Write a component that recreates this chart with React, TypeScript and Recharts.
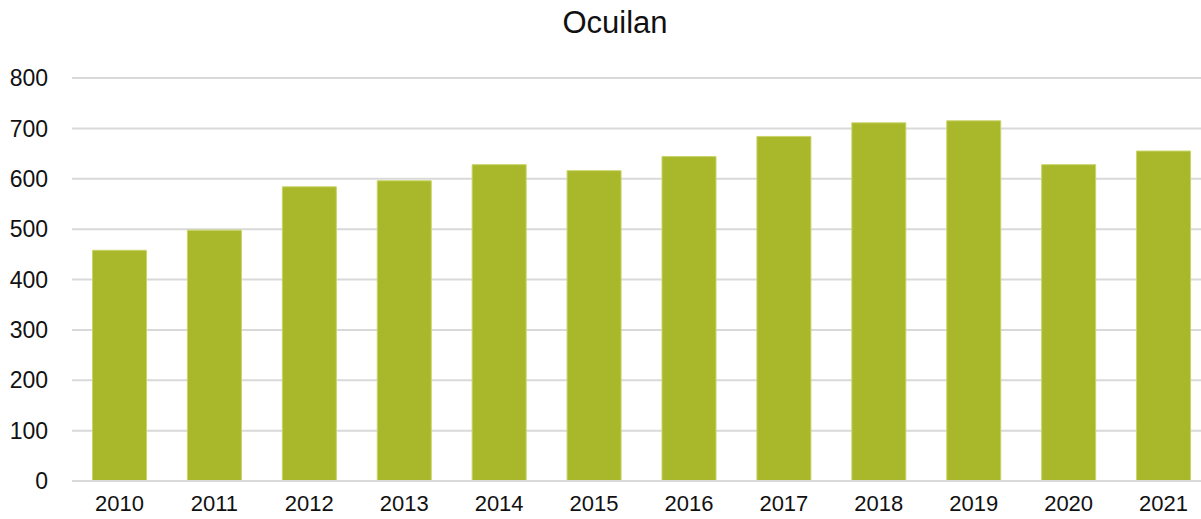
import React from 'react';
import { BarChart, Bar, XAxis, YAxis, CartesianGrid } from 'recharts';

const years = ['2010', '2011', '2012', '2013', '2014', '2015', '2016', '2017', '2018', '2019', '2020', '2021'];
const values = [458, 498, 584, 596, 628, 616, 644, 684, 711, 715, 628, 655];
const yTicks = [0, 100, 200, 300, 400, 500, 600, 700, 800];

const data = years.map((year, i) => ({ year, value: values[i] }));

const font = '"Liberation Sans", Arial, sans-serif';

export default function App() {
    return (
        <div style={{ position: 'absolute', left: 0, top: 0, width: 1201, height: 519, overflow: 'hidden', background: '#fff', fontFamily: font }}>
            <div style={{ position: 'absolute', top: 5, left: 0, width: 1230, textAlign: 'center', fontSize: 31, color: '#111' }}>
                Ocuilan
            </div>
            <BarChart
                width={1211}
                height={519}
                data={data}
                margin={{ top: 78, right: 0, bottom: 0, left: 0 }}
                barCategoryGap="21.6%"
            >
                <CartesianGrid vertical={false} stroke="#d9d9d9" strokeWidth={2} />
                <XAxis
                    dataKey="year"
                    height={38}
                    tickLine={false}
                    tickSize={0}
                    tickMargin={14}
                    axisLine={{ stroke: '#d9d9d9', strokeWidth: 2 }}
                    tick={{ fill: '#111', fontSize: 22, fontFamily: font }}
                    interval={0}
                />
                <YAxis
                    width={72}
                    domain={[0, 800]}
                    ticks={yTicks}
                    axisLine={false}
                    tickLine={false}
                    tickSize={0}
                    tickMargin={24}
                    tick={{ fill: '#111', fontSize: 23, fontFamily: font }}
                />
                <Bar dataKey="value" fill="#a8b82a" stroke="#c9d46a" strokeWidth={1} isAnimationActive={false} />
            </BarChart>
        </div>
    );
}
